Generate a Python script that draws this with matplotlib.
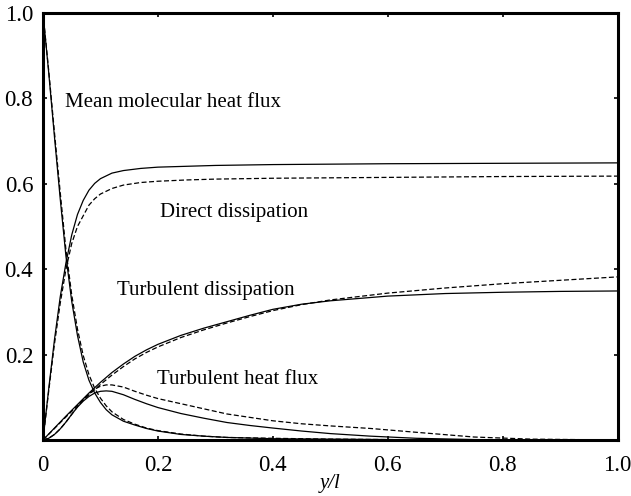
import matplotlib
matplotlib.use("Agg")
import matplotlib.pyplot as plt

plt.rcParams['font.family'] = ['Liberation Serif', 'DejaVu Serif']

# mean molecular heat flux
mm_x = [0, 0.01, 0.02, 0.03, 0.04, 0.05, 0.06, 0.07, 0.08, 0.09, 0.10, 0.11, 0.12,
        0.14, 0.16, 0.18, 0.20, 0.24, 0.28, 0.32, 0.40, 0.50, 0.60, 0.80, 1.0]
mm_s = [1.0, 0.86, 0.71, 0.565, 0.43, 0.325, 0.245, 0.183, 0.140, 0.110, 0.088, 0.071, 0.059,
        0.044, 0.035, 0.027, 0.021, 0.013, 0.009, 0.006, 0.003, 0.002, 0.001, 0.0, 0.0]
mm_d = [1.0, 0.865, 0.72, 0.58, 0.445, 0.34, 0.26, 0.198, 0.153, 0.121, 0.098, 0.080, 0.066,
        0.048, 0.037, 0.028, 0.022, 0.014, 0.009, 0.006, 0.004, 0.002, 0.001, 0.0, 0.0]

# direct dissipation
dd_x = [0, 0.01, 0.02, 0.03, 0.04, 0.05, 0.06, 0.07, 0.08, 0.09, 0.10, 0.12, 0.14,
        0.17, 0.20, 0.25, 0.30, 0.40, 0.50, 0.60, 0.80, 1.0]
dd_s = [0, 0.12, 0.235, 0.335, 0.415, 0.48, 0.528, 0.561, 0.585, 0.601, 0.612, 0.625, 0.631,
        0.636, 0.639, 0.641, 0.643, 0.645, 0.646, 0.647, 0.648, 0.649]
dd_d = [0, 0.115, 0.225, 0.32, 0.40, 0.46, 0.50, 0.525, 0.55, 0.565, 0.576, 0.589, 0.597,
        0.603, 0.606, 0.609, 0.611, 0.613, 0.614, 0.615, 0.617, 0.618]

# turbulent dissipation
td_x = [0, 0.02, 0.04, 0.06, 0.08, 0.10, 0.12, 0.14, 0.16, 0.18, 0.20, 0.24, 0.28,
        0.32, 0.36, 0.40, 0.45, 0.50, 0.60, 0.70, 0.80, 0.90, 1.0]
td_s = [0, 0.028, 0.056, 0.083, 0.110, 0.135, 0.158, 0.178, 0.196, 0.211, 0.224, 0.245, 0.262,
        0.277, 0.292, 0.306, 0.318, 0.326, 0.337, 0.343, 0.346, 0.348, 0.349]
td_d = [0, 0.027, 0.054, 0.080, 0.106, 0.130, 0.152, 0.172, 0.190, 0.205, 0.218, 0.240, 0.258,
        0.274, 0.289, 0.303, 0.317, 0.328, 0.344, 0.356, 0.366, 0.374, 0.382]

# turbulent heat flux
hf_x = [0, 0.01, 0.02, 0.03, 0.04, 0.05, 0.06, 0.07, 0.08, 0.09, 0.10, 0.11, 0.12, 0.14,
        0.16, 0.18, 0.20, 0.24, 0.28, 0.32, 0.36, 0.40, 0.45, 0.50, 0.57, 0.65, 0.75, 0.85, 1.0]
hf_s = [0, 0.004, 0.013, 0.026, 0.042, 0.060, 0.077, 0.091, 0.102, 0.110, 0.114, 0.115, 0.114, 0.106,
        0.095, 0.085, 0.076, 0.062, 0.051, 0.041, 0.034, 0.028, 0.021, 0.015, 0.009, 0.004, 0.001, 0.0, 0.0]
hf_d = [0, 0.004, 0.013, 0.026, 0.042, 0.060, 0.078, 0.094, 0.108, 0.119, 0.126, 0.129, 0.129, 0.124,
        0.114, 0.105, 0.097, 0.085, 0.073, 0.061, 0.053, 0.045, 0.038, 0.033, 0.027, 0.018, 0.007, 0.002, 0.0]

labels = ["Mean molecular heat flux", "Direct dissipation", "Turbulent dissipation", "Turbulent heat flux"]
label_xy = [(0.038, 0.79), (0.203, 0.532), (0.129, 0.351), (0.198, 0.142)]

fig = plt.figure(figsize=(6.31, 4.96), dpi=100)
ax = fig.add_axes([0.0681, 0.1129, 0.9108, 0.8609])

dash = (0, (4, 2))
for x, s, d in [(mm_x, mm_s, mm_d), (dd_x, dd_s, dd_d), (td_x, td_s, td_d), (hf_x, hf_s, hf_d)]:
    ax.plot(x, s, color='black', lw=0.9)
    ax.plot(x, d, color='black', lw=0.9, ls=dash)

for txt, (tx, ty) in zip(labels, label_xy):
    ax.text(tx, ty, txt, fontsize=15, ha='left', va='center')

ax.set_xlim(0, 1)
ax.set_ylim(0, 1)
ax.set_xticks([0, 0.2, 0.4, 0.6, 0.8, 1.0])
ax.set_xticklabels(["0", "0.2", "0.4", "0.6", "0.8", "1.0"])
ax.set_yticks([0.2, 0.4, 0.6, 0.8, 1.0])
ax.set_yticklabels(["0.2", "0.4", "0.6", "0.8", "1.0"])
ax.tick_params(direction='in', top=True, right=True, length=3, width=1.2,
               labelsize=16.5)
ax.tick_params(axis='x', pad=11)
ax.tick_params(axis='y', pad=7)
for sp in ax.spines.values():
    sp.set_linewidth(2.2)
ax.set_xlabel("y/l", fontsize=15, style='italic', labelpad=-2)

fig.savefig("out.png", dpi=100)
